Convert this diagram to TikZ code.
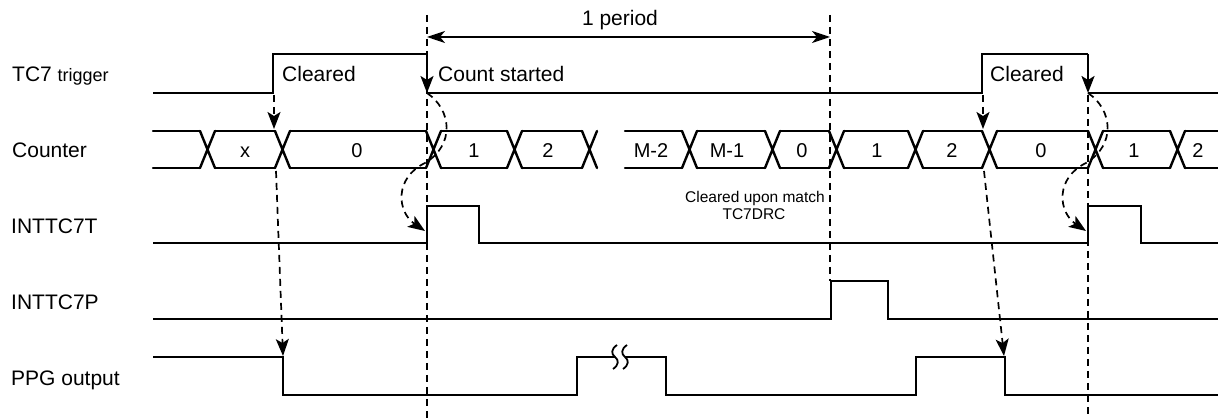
\documentclass[tikz,border=0pt]{standalone}
\usepackage{fontspec}
\setmainfont{Liberation Sans}
\usetikzlibrary{arrows.meta}
\begin{document}
\begin{tikzpicture}[x=1pt,y=-1pt,
  wave/.style={line width=2.4pt, line join=miter},
  bus/.style={line width=2.4pt, line cap=round, line join=round},
  guide/.style={line width=1.7pt, dash pattern=on 7pt off 5pt},
  tip/.style={-{Stealth[length=17pt,width=13pt,inset=4pt]}},
  lbl/.style={anchor=base west, inner sep=0pt, font=\fontsize{21}{25}\selectfont},
  val/.style={anchor=base, inner sep=0pt, font=\fontsize{20}{24}\selectfont},
  note/.style={anchor=base, inner sep=0pt, font=\fontsize{15.5}{18}\selectfont},
]
\useasboundingbox (0,0) rectangle (1218,419);

% ---------- key coordinates ----------
\coordinate (g1top) at (427,15);   \coordinate (g1bot) at (427,419);
\coordinate (g2top) at (830,15);   \coordinate (g2bot) at (830,281);
\coordinate (g3top) at (1088,95);  \coordinate (g3bot) at (1088,419);
\coordinate (perL) at (427,37);    \coordinate (perR) at (830,37);

% ---------- dashed guide lines ----------
\draw[guide] (g1top) -- (g1bot);
\draw[guide] (g2top) -- (g2bot);
\draw[guide] (g3top) -- (g3bot);

% ---------- 1 period ----------
\draw[line width=1.6pt, {Stealth[length=18pt,width=12pt,inset=5pt]}-{Stealth[length=18pt,width=12pt,inset=5pt]}] (perL) -- (perR);
\node[lbl, anchor=base] (per) at (620,26) {1 period};

% ---------- labels ----------
\node[lbl] (lTrig) at (12,82) {TC7 {\fontsize{18}{21}\selectfont trigger}};
\node[lbl] (lCnt) at (12,158) {Counter};
\node[lbl] (lT) at (11,234) {INTTC7T};
\node[lbl] (lP) at (11,310) {INTTC7P};
\node[lbl] (lPPG) at (11,386) {PPG output};

% ---------- TC7 trigger ----------
\coordinate (trR1) at (273,54);  \coordinate (trF1t) at (427,54); \coordinate (trF1b) at (427,93);
\coordinate (trR2) at (982,54);  \coordinate (trF2t) at (1088,54); \coordinate (trF2b) at (1088,93);
\draw[wave] (153,93) -- (273,93) -- (trR1) -- (trF1t);
\draw[wave, tip] (trF1t) -- (trF1b);
\draw[wave] (trF1b) -- (982,93) -- (trR2) -- (trF2t);
\draw[wave, tip] (trF2t) -- (trF2b);
\draw[wave] (trF2b) -- (1218,93);
\node[lbl] (tc1) at (282,82) {Cleared};
\node[lbl] (tcs) at (438,82) {Count started};
\node[lbl] (tc2) at (990,82) {Cleared};

% ---------- Counter bus ----------
\foreach \s in {200,275,426,507,582,682,765,829,908,982,1088,1170}
  \draw[bus] (\s,131) -- ++(15,37) (\s,168) -- ++(15,-37);
\foreach \a/\b in {153/200,215/275,290/426,441/507,522/582,625/682,697/765,780/829,844/908,923/982,997/1088,1103/1170,1185/1218}
  \draw[bus] (\a,131) -- (\b,131) (\a,168) -- (\b,168);
\node[val] (c1) at (245,157.5) {x};
\node[val] (c2) at (357,157.5) {0};
\node[val] (c3) at (474,157.5) {1};
\node[val] (c4) at (548,157.5) {2};
\node[val] (c5) at (651,157.5) {M-2};
\node[val] (c6) at (727,157.5) {M-1};
\node[val] (c7) at (802,157.5) {0};
\node[val] (c8) at (877,157.5) {1};
\node[val] (c9) at (952,157.5) {2};
\node[val] (c10) at (1041,157.5) {0};
\node[val] (c11) at (1134,157.5) {1};
\node[val] (c12) at (1198,157.5) {2};
\coordinate (cx1top) at (274,129); \coordinate (cx1bot) at (276,171);
\coordinate (cx2top) at (983,129); \coordinate (cx2bot) at (984,171);

% ---------- INTTC7T ----------
\coordinate (tR1) at (425,231); \coordinate (tR2) at (1086,231);
\draw[wave] (153,243) -- (427,243) -- (427,206) -- (479,206) -- (479,243) -- (1088,243) -- (1088,206) -- (1141,206) -- (1141,243) -- (1218,243);

% ---------- INTTC7P ----------
\draw[wave] (153,319) -- (831,319) -- (831,281) -- (888,281) -- (888,319) -- (1218,319);
\node[note] (m1) at (755,203) {Cleared upon match};
\node[note] (m2) at (754,219.5) {TC7DRC};

% ---------- PPG output ----------
\coordinate (pF1) at (283,356); \coordinate (pF2) at (1004,356);
\draw[wave] (153,357) -- (283,357) -- (283,395) -- (577,395) -- (577,357) -- (615,357);
\draw[wave] (625,357) -- (666,357) -- (666,395) -- (916,395) -- (916,357) -- (1005,357) -- (1005,395) -- (1218,395);
\foreach \x in {615,625}
  \draw[line width=1.8pt] (\x+2,345) .. controls (\x-4,349) and (\x-4,354) .. (\x,357) .. controls (\x+4,360) and (\x+4,365) .. (\x-2,369);

% ---------- cause arrows ----------
\draw[guide, tip] (274,95) -- (cx1top);
\draw[guide, tip] (983,95) -- (cx2top);
\draw[guide, tip] (cx1bot) -- (pF1);
\draw[guide, tip] (cx2bot) -- (pF2);
\draw[guide, tip] (trF1b) .. controls (452,110) and (455,145) .. (425,163) .. controls (394,178) and (397,212) .. (tR1);
\draw[guide, tip] (trF2b) .. controls (1113,110) and (1116,145) .. (1086,163) .. controls (1055,178) and (1058,212) .. (tR2);
\end{tikzpicture}
\end{document}
